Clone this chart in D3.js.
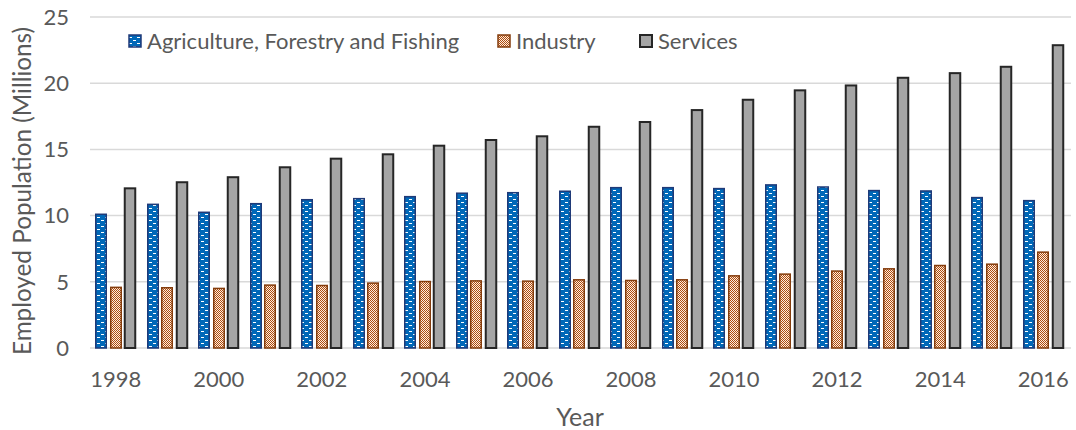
<!DOCTYPE html>
<html>
<head>
<meta charset="utf-8">
<script src="https://cdn.jsdelivr.net/npm/d3@7"></script>
<style>
  html, body { margin: 0; padding: 0; background: #fff; }
  svg { display: block; font-family: Lato, "Open Sans", sans-serif; }
</style>
</head>
<body>
<svg id="chart" width="1076" height="430"></svg>
<script>
const years = [1998,1999,2000,2001,2002,2003,2004,2005,2006,2007,2008,2009,2010,2011,2012,2013,2014,2015,2016];
const seriesNames = ["Agriculture, Forestry and Fishing", "Industry", "Services"];
const agriculture = [10.1,10.85,10.25,10.9,11.2,11.28,11.43,11.69,11.73,11.84,12.11,12.11,12.04,12.32,12.16,11.89,11.86,11.36,11.13];
const industry    = [4.58,4.55,4.5,4.75,4.72,4.9,5.02,5.07,5.05,5.15,5.1,5.15,5.45,5.58,5.81,5.98,6.23,6.33,7.24];
const services    = [12.06,12.52,12.9,13.65,14.3,14.63,15.28,15.71,15.99,16.71,17.07,17.97,18.75,19.46,19.83,20.41,20.76,21.24,22.87];
const yTicks = [0,5,10,15,20,25];
const xTickLabels = [1998,2000,2002,2004,2006,2008,2010,2012,2014,2016];
const yTitle = "Employed Population (Millions)";
const xTitle = "Year";

const svg = d3.select("#chart");
const defs = svg.append("defs");

// Pattern: blue with white horizontal dashes
const pA = defs.append("pattern").attr("id","patA").attr("patternUnits","userSpaceOnUse")
  .attr("width",8).attr("height",6);
pA.append("rect").attr("width",8).attr("height",6).attr("fill","#0068B8");
pA.append("rect").attr("x",1).attr("y",1).attr("width",3).attr("height",1).attr("fill","#fff");
pA.append("rect").attr("x",5).attr("y",4).attr("width",3).attr("height",1).attr("fill","#fff");

// Pattern: orange checkerboard
const pI = defs.append("pattern").attr("id","patI").attr("patternUnits","userSpaceOnUse")
  .attr("width",2).attr("height",2);
pI.append("rect").attr("width",2).attr("height",2).attr("fill","#FBEDE2");
pI.append("rect").attr("x",0).attr("y",0).attr("width",1).attr("height",1).attr("fill","#B04C0C");
pI.append("rect").attr("x",1).attr("y",1).attr("width",1).attr("height",1).attr("fill","#B04C0C");

const styles = [
  {fill:"url(#patA)", stroke:"#1F3A78", sw:1.5},
  {fill:"url(#patI)", stroke:"#843C0C", sw:1.5},
  {fill:"#A5A5A5", stroke:"#262626", sw:2}
];

const plotLeft = 90, plotRight = 1069, plotTop = 17, plotBottom = 348;
const x0 = d3.scaleBand().domain(years).range([plotLeft, plotRight]).paddingInner(0.2).paddingOuter(0.1);
const x1 = d3.scaleBand().domain([0,1,2]).range([0, x0.bandwidth()]).paddingInner(0.15);
const y = d3.scaleLinear().domain([0,25]).range([plotBottom, plotTop]);

// gridlines
svg.append("g").selectAll("line").data(yTicks).join("line")
  .attr("x1", plotLeft).attr("x2", 1071)
  .attr("y1", d => y(d)).attr("y2", d => y(d))
  .attr("stroke", "#D9D9D9").attr("stroke-width", 1.5);

// y tick labels
svg.append("g").selectAll("text").data(yTicks).join("text")
  .attr("x", 69).attr("y", d => y(d)).attr("dy","0.35em")
  .attr("text-anchor","end").attr("fill","#595959").attr("font-size", 22)
  .text(d => d);

// bars (pixel-aligned so the fine patterns render crisply)
const data = [];
years.forEach((yr, i) => {
  [agriculture[i], industry[i], services[i]].forEach((v, k) => data.push({yr, v, k}));
});
const bw = Math.round(x1.bandwidth());
svg.append("g").selectAll("rect").data(data).join("rect")
  .attr("x", d => Math.round(x0(d.yr) + x1(d.k)) + 0.75)
  .attr("width", bw - 1.5)
  .attr("y", d => y(d.v))
  .attr("height", d => y(0) - y(d.v))
  .attr("fill", d => styles[d.k].fill)
  .attr("stroke", d => styles[d.k].stroke)
  .attr("stroke-width", d => styles[d.k].sw);

// x tick labels
svg.append("g").selectAll("text").data(xTickLabels).join("text")
  .attr("x", d => x0(d) + x0.bandwidth()/2).attr("y", 387)
  .attr("text-anchor","middle").attr("fill","#595959").attr("font-size", 22)
  .text(d => d);

// axis titles
svg.append("text").attr("x", 580).attr("y", 426).attr("text-anchor","middle")
  .attr("fill","#595959").attr("font-size", 25).text(xTitle);
svg.append("text").attr("transform","translate(31,191) rotate(-90)").attr("text-anchor","middle")
  .attr("fill","#595959").attr("font-size", 24.3).text(yTitle);

// legend
const legendPos = [{sx:128, tx:147},{sx:497, tx:516},{sx:639, tx:658}];
const lg = svg.append("g").selectAll("g").data(seriesNames).join("g");
lg.append("rect")
  .attr("x", (d,i) => legendPos[i].sx + 1).attr("y", 35)
  .attr("width", 12).attr("height", 12)
  .attr("fill", (d,i) => styles[i].fill)
  .attr("stroke", (d,i) => styles[i].stroke)
  .attr("stroke-width", (d,i) => styles[i].sw);
lg.append("text")
  .attr("x", (d,i) => legendPos[i].tx).attr("y", 41).attr("dy","0.35em")
  .attr("fill","#595959").attr("font-size", 22)
  .text(d => d);
</script>
</body>
</html>
